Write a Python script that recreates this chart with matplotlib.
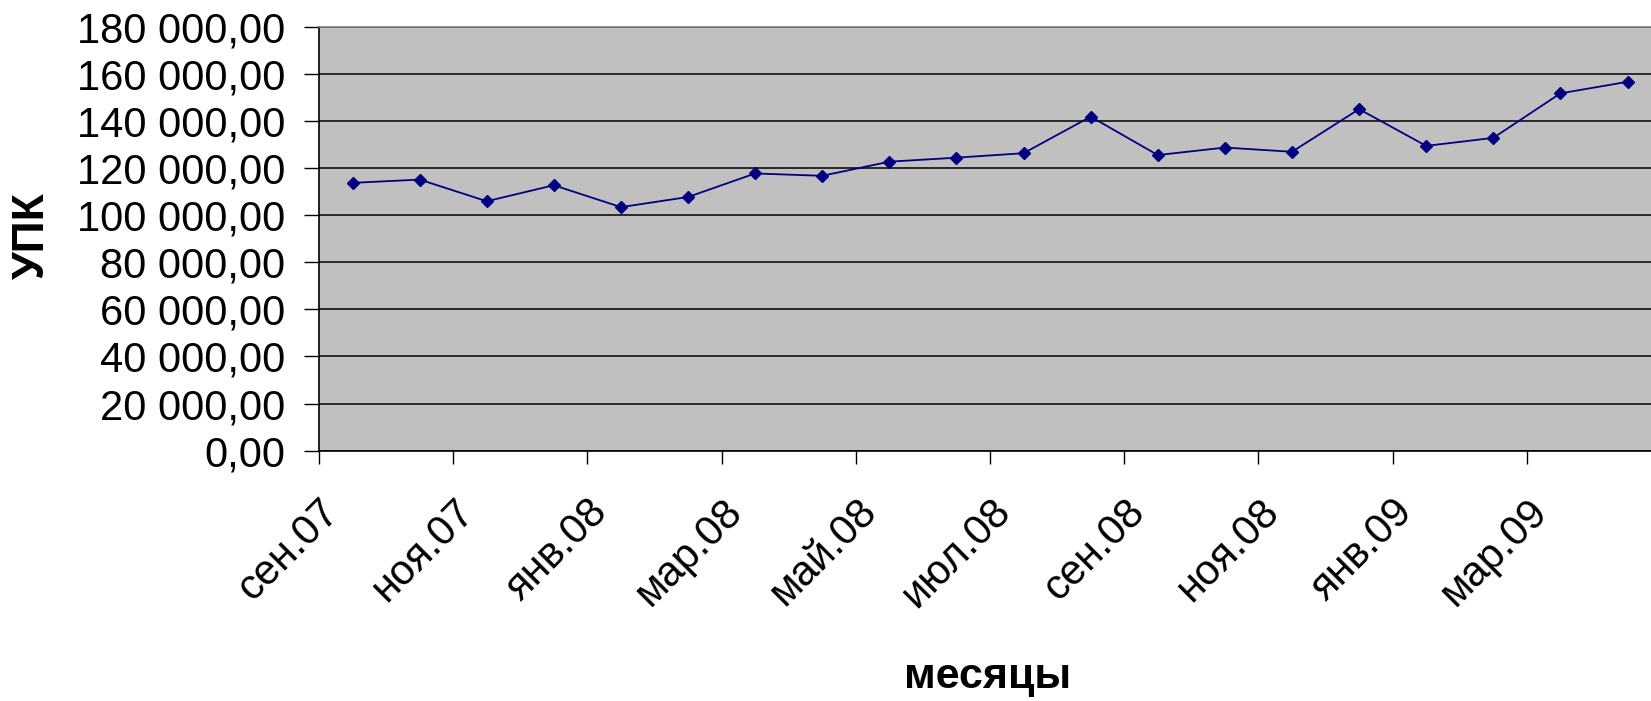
import matplotlib
matplotlib.use("Agg")
import matplotlib.pyplot as plt
import matplotlib.transforms as mtransforms
from matplotlib.ticker import FuncFormatter, FixedLocator
import numpy as np

plt.rcParams['font.family'] = ['Liberation Sans', 'DejaVu Sans']

# ---- data ----
months = ['сен.07', 'окт.07', 'ноя.07', 'дек.07', 'янв.08', 'фев.08', 'мар.08', 'апр.08',
          'май.08', 'июн.08', 'июл.08', 'авг.08', 'сен.08', 'окт.08', 'ноя.08', 'дек.08',
          'янв.09', 'фев.09', 'мар.09', 'апр.09']
values = [113700, 115100, 105900, 112700, 103400, 107700, 117700, 116700, 122700, 124400,
          126300, 141800, 125500, 128700, 126900, 145000, 129400, 132800, 151700, 156600]
tick_labels = ['сен.07', 'ноя.07', 'янв.08', 'мар.08', 'май.08', 'июл.08',
               'сен.08', 'ноя.08', 'янв.09', 'мар.09']
y_ticks = [0, 20000, 40000, 60000, 80000, 100000, 120000, 140000, 160000, 180000]
x_label = 'месяцы'
y_label = 'УПК'

W, H = 1651, 701
fig = plt.figure(figsize=(W / 100, H / 100), dpi=100)
left_px, top_px, bottom_px = 319, 26.7, 450.7
ax = fig.add_axes([left_px / W, 1 - bottom_px / H, 1 - left_px / W, (bottom_px - top_px) / H])
ax.set_facecolor('#C0C0C0')

x = np.arange(len(values)) + 0.5
ax.plot(x, values, color='#000080', lw=1.3, marker='D', ms=6.2,
        markerfacecolor='#000080', markeredgecolor='#000080', zorder=3)

ax.set_xlim(0, 19.85)
ax.set_ylim(y_ticks[0], y_ticks[-1])
ax.yaxis.set_major_locator(FixedLocator(y_ticks))
ax.yaxis.set_major_formatter(FuncFormatter(
    lambda v, p: f"{v:,.2f}".replace(",", " ").replace(".", ",")))
ax.grid(axis='y', color='black', lw=1.1)
ax.set_axisbelow(True)

ax.set_xticks(np.arange(0, 2 * len(tick_labels), 2))
ax.set_xticklabels(tick_labels, rotation=45, ha='right', va='top',
                   rotation_mode='anchor', fontsize=30)
offset = mtransforms.ScaledTranslation(8 / 100, 0, fig.dpi_scale_trans)
for lab in ax.get_xticklabels():
    lab.set_transform(lab.get_transform() + offset)

ax.tick_params(axis='y', direction='out', length=10.5, width=1.0, pad=14, labelsize=30,
               color='black')
ax.tick_params(axis='x', direction='out', length=9.4, width=1.0, pad=20, color='black')

for s in ['left', 'bottom']:
    ax.spines[s].set_color('black')
    ax.spines[s].set_linewidth(1.2)
ax.spines['top'].set_color('#808080')
ax.spines['top'].set_linewidth(1.2)
ax.spines['right'].set_visible(False)

fig.text(32 / W, 1 - 236 / H, y_label, rotation=90, ha='center', va='center',
         fontsize=32, fontweight='bold')
fig.text(988 / W, 1 - 688 / H, x_label, ha='center', va='baseline',
         fontsize=31, fontweight='bold')

fig.savefig('out.png', dpi=100, facecolor='white')
